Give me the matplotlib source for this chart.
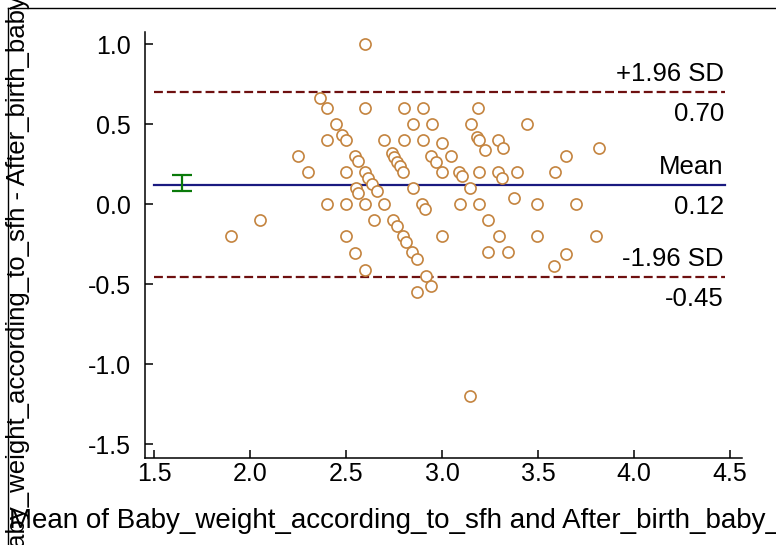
import numpy as np
import matplotlib
matplotlib.use('Agg')
import matplotlib.pyplot as plt
from matplotlib.lines import Line2D

plt.rcParams['font.family'] = ['Liberation Sans', 'DejaVu Sans']
plt.rcParams['axes.unicode_minus'] = False

# mean of the two weights (x) and their difference (y)
mean_w = [2.60, 2.365,
          2.40, 2.60, 2.80, 2.90, 3.19,
          2.45, 2.85, 2.95, 3.15, 3.445,
          2.48, 3.18,
          2.40, 2.50, 2.70, 2.80, 2.90, 3.195, 3.29,
          3.00,
          3.225, 3.32, 3.82,
          2.25, 2.545, 2.56, 2.74, 2.75, 2.765, 2.78, 2.795, 2.945, 2.97, 3.045, 3.645,
          2.30, 2.50, 2.60, 3.00, 3.09, 3.195, 3.29, 3.39, 3.59,
          2.615, 3.105, 3.315,
          2.635, 2.66, 2.55, 2.56, 2.85, 3.145, 3.375,
          2.40, 2.50, 2.60, 2.70, 2.895, 2.91, 3.095, 3.195, 3.495, 3.70,
          2.05, 2.645, 2.745, 2.765, 3.24,
          1.90, 2.50, 2.795, 2.81, 3.00, 3.295, 3.495, 3.80,
          2.545, 2.845, 2.87, 3.24, 3.345, 3.645,
          3.585, 2.60, 2.915, 2.945, 2.87,
          3.145]
diff_w = [1.00, 0.665,
          0.60, 0.60, 0.60, 0.60, 0.60,
          0.50, 0.50, 0.50, 0.50, 0.50,
          0.43, 0.42,
          0.40, 0.40, 0.40, 0.40, 0.40, 0.40, 0.40,
          0.38,
          0.34, 0.35, 0.35,
          0.30, 0.30, 0.27, 0.32, 0.295, 0.265, 0.235, 0.20, 0.30, 0.26, 0.30, 0.30,
          0.20, 0.20, 0.20, 0.20, 0.20, 0.20, 0.20, 0.20, 0.20,
          0.16, 0.175, 0.16,
          0.125, 0.08, 0.10, 0.07, 0.10, 0.10, 0.035,
          0.00, 0.00, 0.00, 0.00, 0.00, -0.03, 0.00, 0.00, 0.00, 0.00,
          -0.10, -0.10, -0.10, -0.14, -0.10,
          -0.20, -0.20, -0.20, -0.235, -0.20, -0.20, -0.20, -0.20,
          -0.305, -0.30, -0.345, -0.30, -0.30, -0.31,
          -0.39, -0.41, -0.45, -0.51, -0.55,
          -1.20]

# limits of agreement: name, value, value label
lines_name = ['+1.96 SD', 'Mean', '-1.96 SD']
lines_y = [0.70, 0.12, -0.455]
lines_lab = ['0.70', '0.12', '-0.45']
ci_low, ci_high = 0.08, 0.18
ci_x = 1.645
line_x = [1.5, 4.475]

x_ticks = [1.5, 2.0, 2.5, 3.0, 3.5, 4.0, 4.5]
y_ticks = [-1.5, -1.0, -0.5, 0.0, 0.5, 1.0]

W, H = 776, 545
fig = plt.figure(figsize=(W / 100, H / 100), dpi=100)
ax = fig.add_axes([145 / W, 1 - 458 / H, (742 - 145) / W, (458 - 32) / H])

ax.plot(mean_w, diff_w, 'o', ms=8, mfc='white', mec='#c4843f', mew=1.2, zorder=3)

for name, yv in zip(lines_name, lines_y):
    if name == 'Mean':
        ax.plot(line_x, [yv, yv], '-', color='#1a1a80', lw=1.6)
    else:
        ax.plot(line_x, [yv, yv], '--', color='#6e1010', lw=1.6, dashes=(4, 1.8))

bias = lines_y[1]
ax.errorbar([ci_x], [bias], yerr=[[bias - ci_low], [ci_high - bias]],
            color='#0a7a0a', lw=1.6, capsize=7.5, capthick=1.6)

fs = 18.5
tx = line_x[1]
for name, yv, lab in zip(lines_name, lines_y, lines_lab):
    ax.annotate(name, (tx, yv), xytext=(-1, 4), textcoords='offset points',
                ha='right', va='bottom', fontsize=fs)
    ax.annotate(lab, (tx, yv), xytext=(-1, -7), textcoords='offset points',
                ha='right', va='top', fontsize=fs)

ax.set_xlim(1.453, 4.5625)
ax.set_ylim(-1.5875, 1.075)
ax.set_xticks(x_ticks)
ax.set_yticks(y_ticks)
ax.set_xticklabels(['%.1f' % v for v in x_ticks])
ax.set_yticklabels(['%.1f' % v for v in y_ticks])
ax.tick_params(direction='in', length=5.5, width=1.1, labelsize=18)
ax.tick_params(axis='y', pad=10)
ax.tick_params(axis='x', pad=3)
ax.spines['top'].set_visible(False)
ax.spines['right'].set_visible(False)
for s in ['left', 'bottom']:
    ax.spines[s].set_linewidth(1.1)

fig.text(18 / W, 1 - 236 / H, 'Baby_weight_according_to_sfh - After_birth_baby_weight',
         rotation=90, ha='center', va='center', fontsize=18.5)
fig.text(9 / W, 1 - 521 / H, 'Mean of Baby_weight_according_to_sfh and After_birth_baby_weight',
         ha='left', va='center', fontsize=20)

# thin frame round the picture
fig.add_artist(Line2D([8 / W, 8 / W], [0, 1 - 8 / H], transform=fig.transFigure, color='black', lw=1))
fig.add_artist(Line2D([8 / W, 1], [1 - 8 / H, 1 - 8 / H], transform=fig.transFigure, color='black', lw=1))

fig.savefig('out.png', dpi=100)
